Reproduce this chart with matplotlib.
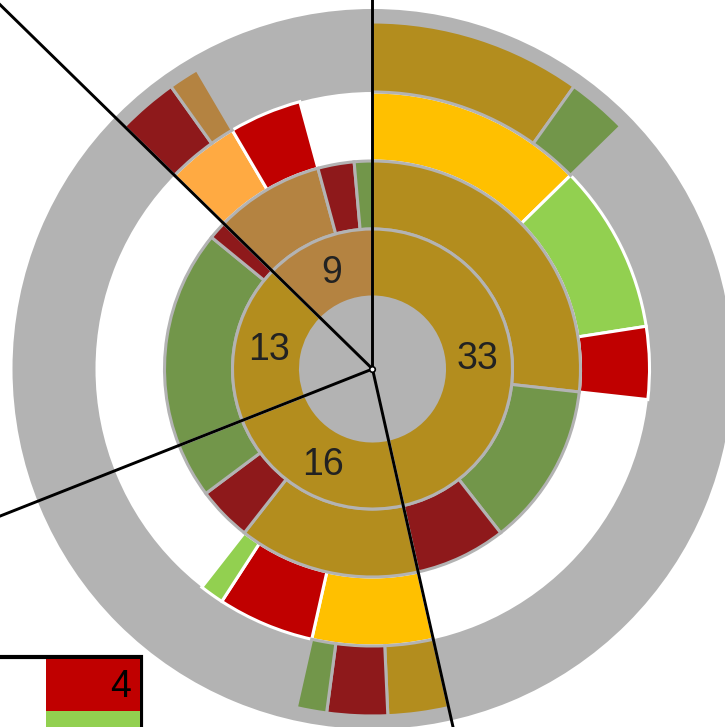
import numpy as np
import matplotlib
matplotlib.use("Agg")
import matplotlib.pyplot as plt
from matplotlib.patches import Wedge, Circle, Rectangle

# all segment sizes are in units of the inner total (71)
inner_values = [33, 16, 13, 9]
inner_labels = ["33", "16", "13", "9"]
inner_colors = ["olive", "olive", "olive", "tan"]

ring2_values = [19, 9, 5, 10, 3, 3, 12, 1, 6, 2, 1]
ring2_colors = ["olive", "green", "darkred", "olive", "darkred", "green",
                "green", "darkred", "tan", "darkred", "green"]

# None = empty gap
ring3_values = [9, 7, 3, 14, 5, 4, 1, 19, 3, 3, 3]
ring3_colors = ["yellow", "lightgreen", "red", None, "yellow", "red",
                "lightgreen", None, "orange", "red", None]

ring4_values = [7, 2, 24, 2, 2, 1, 24, 2, 1, 6]
ring4_colors = ["olive", "green", None, "olive", "darkred", "green", None,
                "darkred", "tan", None]

legend_values = [4]
legend_colors = ["red", "lightgreen"]

palette = {
    "olive": "#B38D1E",
    "tan": "#B48341",
    "green": "#72964A",
    "darkred": "#8E191B",
    "red": "#C00000",
    "yellow": "#FFC000",
    "lightgreen": "#92D050",
    "orange": "#FFAA42",
}
gray = "#B3B3B3"

W, H = 725, 727
cx, cy = 372.5, H - 369

fig = plt.figure(figsize=(7.25, 7.27), dpi=100)
ax = fig.add_axes([0, 0, 1, 1])

# gray background ring and centre disc
ax.add_patch(Wedge((cx, cy), 360, 0, 360, width=83, facecolor=gray, edgecolor="none"))
ax.add_patch(Circle((cx, cy), 73, facecolor=gray, edgecolor="none"))


def ring(values, colors, r_out, width, edge):
    fc = [palette[c] if c else "none" for c in colors]
    wedges, _ = ax.pie(values, radius=r_out, center=(cx, cy), startangle=90,
                       counterclock=False, colors=fc,
                       wedgeprops=dict(width=width, edgecolor=edge, linewidth=2.2))
    for w, c in zip(wedges, colors):
        if c is None:
            w.set_edgecolor("none")
    return wedges


ring(ring3_values, ring3_colors, 277, 69, "white")
ring(ring4_values, ring4_colors, 347, 70, gray)
ring(ring2_values, ring2_colors, 208, 68, gray)
ring(inner_values, inner_colors, 140, 68, gray)

total = sum(inner_values)
cum = np.cumsum(inner_values)
mids = (cum - np.array(inner_values) / 2) / total * 2 * np.pi
for a, lab in zip(mids, inner_labels):
    ax.text(cx + 106 * np.sin(a), cy + 106 * np.cos(a) - 2, lab, ha="center",
            va="center", fontsize=27, color="#222222", family="Liberation Sans")

# black lines along the inner segment boundaries
starts = np.concatenate([[0], cum[:-1]]) / total * 2 * np.pi
for a in starts:
    ax.plot([cx, cx + 800 * np.sin(a)], [cy, cy + 800 * np.cos(a)],
            color="black", lw=2.1, zorder=4)
ax.plot(cx, cy, marker="o", ms=4, mfc="white", mec="black", mew=1.2, zorder=5)

# partial legend in the lower-left corner
ax.add_patch(Rectangle((-10, -30), 151.5, 100, facecolor="white",
                       edgecolor="black", lw=3, zorder=6))
ax.add_patch(Rectangle((46, 16), 94, 52, facecolor=palette[legend_colors[0]],
                       edgecolor="none", zorder=7))
ax.add_patch(Rectangle((46, -30), 94, 46, facecolor=palette[legend_colors[1]],
                       edgecolor="none", zorder=7))
ax.text(131, 40, str(legend_values[0]), ha="right", va="center", fontsize=27,
        color="black", family="Liberation Sans", zorder=8)

ax.set_xlim(0, W)
ax.set_ylim(0, H)
ax.set_aspect("equal")
ax.axis("off")
fig.savefig("out.png", dpi=100)
